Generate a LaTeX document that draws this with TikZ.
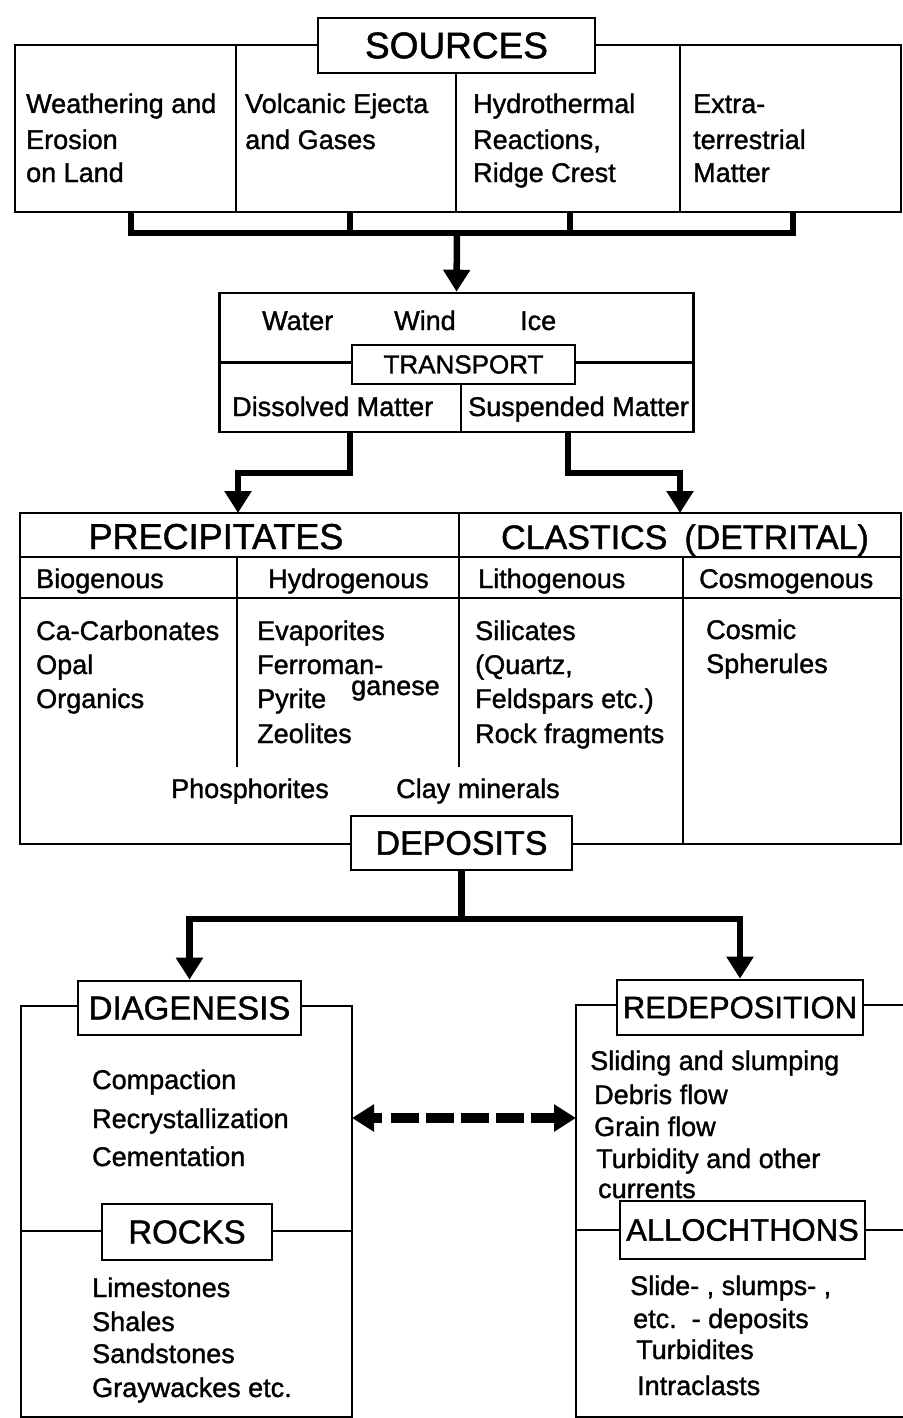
\documentclass[tikz,border=0pt]{standalone}
\usepackage{fontspec}
\setmainfont{Liberation Sans}[FakeBold=1.3]
\usetikzlibrary{arrows.meta,calc}
\begin{document}
\begin{tikzpicture}[x=1pt,y=-1pt,line join=miter,
  frame/.style={line width=2.6pt},
  box/.style={draw,line width=2.6pt,inner sep=0pt},
  conn/.style={line width=6.5pt},
  tipa/.style={-{Triangle[width=26pt,length=22pt]}},
  lab/.style={draw,line width=2.6pt,fill=white,inner sep=0pt},
  txt/.style={anchor=west,inner sep=0pt,text height=20pt,text depth=0pt,font=\fontsize{27}{32}\selectfont},
  title/.style={inner sep=0pt,text height=26pt,text depth=0pt},
]
\useasboundingbox (0,0) rectangle (902,1418);

% ---------------- SOURCES ----------------
\node[box,minimum width=886pt,minimum height=167pt] (srcbox) at (458,128.5) {};
\draw[frame] (236,45) -- (236,212);
\draw[frame] (456,45) -- (456,212);
\draw[frame] (680,45) -- (680,212);
\node[lab,minimum width=277pt,minimum height=55pt,font=\fontsize{37}{40}\selectfont] (sources) at (456.5,45.5) {SOURCES};

\foreach \t/\y [count=\i] in {Weathering and/103, Erosion/139, on Land/172}
  \node[txt] (sa\i) at (26,\y) {\t};
\foreach \t/\y [count=\i] in {Volcanic Ejecta/103, and Gases/139}
  \node[txt] (sb\i) at (245,\y) {\t};
\foreach \t/\y [count=\i] in {Hydrothermal/103, {Reactions,}/139, Ridge Crest/172}
  \node[txt] (sc\i) at (473,\y) {\t};
\foreach \t/\y [count=\i] in {Extra-/103, terrestrial/139, Matter/172}
  \node[txt] (sd\i) at (693,\y) {\t};

% bracket
\coordinate (b1) at (131,212);
\coordinate (b2) at (350,212);
\coordinate (b3) at (570,212);
\coordinate (b4) at (793,212);
\coordinate (bj) at (457,233);
\draw[conn] (b1) |- (bj) -| (b4);
\draw[conn] (b2) -- (b2 |- bj);
\draw[conn] (b3) -- (b3 |- bj);

% ---------------- TRANSPORT ----------------
\node[box,minimum width=474pt,minimum height=139pt] (trans) at (456.5,362.5) {};
\draw[conn,tipa] (bj) -- (trans.north);
\draw[frame] (trans.west) -- (trans.east);
\draw[frame] (461,384) -- (461,432);
\node[lab,minimum width=223pt,minimum height=39pt,font=\fontsize{26}{30}\selectfont] (tlab) at (463.5,364.5) {TRANSPORT};
\node[txt] (water) at (262,320) {Water};
\node[txt] (wind) at (394,320) {Wind};
\node[txt] (ice) at (520,320) {Ice};
\node[txt] (dissolved) at (232,406) {Dissolved Matter};
\node[txt] (suspended) at (468,406) {Suspended Matter};

\coordinate (tl) at (350,432);
\coordinate (tr) at (568,432);
\coordinate (pl) at (238,513);
\coordinate (pr) at (680,513);
\draw[conn,tipa] (tl) -- ++(0,41) -| (pl);
\draw[conn,tipa] (tr) -- ++(0,41) -| (pr);

% ---------------- PRECIPITATES / CLASTICS ----------------
\node[box,minimum width=881pt,minimum height=331pt] (prec) at (460.5,678.5) {};
\draw[frame] (20,557) -- (901,557);
\draw[frame] (20,598) -- (901,598);
\draw[frame] (459,513) -- (459,767);
\draw[frame] (237,557) -- (237,767);
\draw[frame] (683,557) -- (683,844);

\node[title,font=\fontsize{36}{40}\selectfont] (precip) at (216,536) {PRECIPITATES};
\node[title,font=\fontsize{34}{40}\selectfont] (clastics) at (685,536) {CLASTICS\hspace{0.5em}(DETRITAL)};

\node[txt] (bio) at (36,578) {Biogenous};
\node[txt] (hydro) at (268,578) {Hydrogenous};
\node[txt] (litho) at (478,578) {Lithogenous};
\node[txt] (cosmo) at (699,578) {Cosmogenous};

\foreach \t/\y [count=\i] in {Ca-Carbonates/630, Opal/664, Organics/698}
  \node[txt] (pa\i) at (36,\y) {\t};
\foreach \t/\y [count=\i] in {Evaporites/630, Ferroman-/664, Pyrite/698, Zeolites/733}
  \node[txt] (pb\i) at (257,\y) {\t};
\node[txt] (ganese) at (351,685) {ganese};
\foreach \t/\y [count=\i] in {Silicates/630, {(Quartz,}/664, Feldspars etc.)/698, Rock fragments/733}
  \node[txt] (pc\i) at (475,\y) {\t};
\foreach \t/\y [count=\i] in {Cosmic/629, Spherules/663}
  \node[txt] (pd\i) at (706,\y) {\t};
\node[txt] (phos) at (171,788) {Phosphorites};
\node[txt] (clay) at (396,788) {Clay minerals};

\node[lab,minimum width=221pt,minimum height=54pt,font=\fontsize{34}{40}\selectfont] (dep) at (461.5,843) {DEPOSITS};

% ---------------- DIAGENESIS / REDEPOSITION ----------------
\node[box,minimum width=331pt,minimum height=411pt] (lbox) at (186.5,1211.5) {};
\draw[frame] (21,1231) -- (352,1231);
\draw[frame] (904,1005) -- (576,1005) -- (576,1417) -- (904,1417);
\draw[frame] (576,1230) -- (904,1230);

\node[lab,minimum width=223pt,minimum height=54pt,font=\fontsize{33}{40}\selectfont] (diag) at (189.5,1008) {DIAGENESIS};
\node[lab,minimum width=170pt,minimum height=56pt,font=\fontsize{33}{40}\selectfont] (rocks) at (187,1232) {ROCKS};
\node[lab,minimum width=246pt,minimum height=55pt,font=\fontsize{31}{40}\selectfont] (redep) at (740,1007.5) {REDEPOSITION};
\node[lab,minimum width=245pt,minimum height=58pt,font=\fontsize{31}{40}\selectfont] (alloch) at (742.5,1230) {ALLOCHTHONS};

\coordinate (jn) at (461.5,919);
\draw[conn] (dep.south) -- (jn);
\draw[conn,tipa] (jn) -| (diag.north);
\draw[conn,tipa] (jn) -| (redep.north);

\foreach \t/\y [count=\i] in {Compaction/1079, Recrystallization/1118, Cementation/1156}
  \node[txt] (da\i) at (92,\y) {\t};
\foreach \t/\y [count=\i] in {Limestones/1287, Shales/1321, Sandstones/1353, Graywackes etc./1387}
  \node[txt] (ra\i) at (92,\y) {\t};
\foreach \t/\x/\y [count=\i] in {Sliding and slumping/590/1060, Debris flow/594/1094, Grain flow/594/1126, Turbidity and other/596/1158, currents/598/1188}
  \node[txt] (ea\i) at (\x,\y) {\t};
\foreach \t/\x/\y [count=\i] in {{Slide- , slumps- ,}/630/1285, etc.\ \ - deposits/633/1318, Turbidites/636/1349, Intraclasts/637/1385}
  \node[txt] (fa\i) at (\x,\y) {\t};

\coordinate (dl) at (352,1118);
\coordinate (dr) at (576,1118);
\draw[line width=10pt,dash pattern=on 9pt off 9pt on 28pt off 7pt on 28pt off 7pt on 28pt off 7pt on 28pt off 7pt on 28pt off 200pt,
  {Triangle[width=26pt,length=22pt]}-{Triangle[width=26pt,length=22pt]}] (dl) -- (dr);
\end{tikzpicture}
\end{document}
